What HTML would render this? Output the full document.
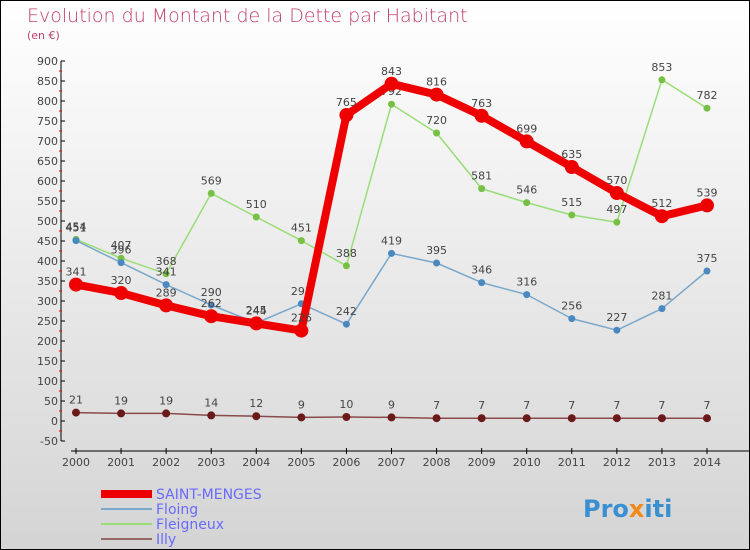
<!DOCTYPE html>
<html><head><meta charset="utf-8"><style>
body{margin:0}
#c{width:748px;height:548px;border:1px solid #000;background:linear-gradient(#fff,#d4d4d4);position:relative;font-family:"DejaVu Sans","Liberation Sans",sans-serif;overflow:hidden}
</style></head><body>
<div id="c">
<svg id="s" width="748" height="548" xmlns="http://www.w3.org/2000/svg">
<text x="26" y="21" font-size="19" fill="#c0406a" font-weight="300">Evolution du Montant de la Dette par Habitant</text>
<text x="26" y="38" font-size="11" fill="#c0406a">(en €)</text>
<g id="axes"></g><g id="series"></g>
<g>
<rect x="100" y="489" width="51" height="8" fill="#e00"/>
<text x="155" y="498" font-size="14" fill="#6a6aff">SAINT-MENGES</text>
<rect x="100" y="507" width="51" height="2" fill="#7aa8cc"/>
<text x="155" y="513" font-size="14" fill="#6a6aff">Floing</text>
<rect x="100" y="522" width="51" height="2" fill="#99dd77"/>
<text x="155" y="528" font-size="14" fill="#6a6aff">Fleigneux</text>
<rect x="100" y="537" width="51" height="2" fill="#996666"/>
<text x="155" y="543" font-size="14" fill="#6a6aff">Illy</text>
</g>
<text x="582" y="516" font-size="24" font-weight="bold" fill="#3a8fd0">Pro<tspan fill="#f08a1a">x</tspan>iti</text>
</svg></div>
<script>
const years=["2000","2001","2002","2003","2004","2005","2006","2007","2008","2009","2010","2011","2012","2013","2014"];
const yTicks=[900,850,800,750,700,650,600,550,500,450,400,350,300,250,200,150,100,50,0,-50];
const saintMenges=[341,320,289,262,244,226,765,843,816,763,699,635,570,512,539];
const floing=[451,396,341,290,245,293,242,419,395,346,316,256,227,281,375];
const fleigneux=[454,407,368,569,510,451,388,792,720,581,546,515,497,853,782];
const illy=[21,19,19,14,12,9,10,9,7,7,7,7,7,7,7];
const NS="http://www.w3.org/2000/svg";
const X=i=>75+i*(706-75)/(years.length-1);
const Y=v=>420-v*0.4;
function mk(t,a,p){const e=document.createElementNS(NS,t);for(const k in a)e.setAttribute(k,a[k]);p.appendChild(e);return e;}
const ax=document.getElementById('axes'),sg=document.getElementById('series');
let e=mk('line',{x1:60,y1:Y(900),x2:60,y2:Y(-50),stroke:'#000'},ax);


yTicks.forEach(v=>{mk('line',{x1:60,y1:Y(v),x2:64,y2:Y(v),stroke:'#000'},ax);
 if(v>-50)mk('line',{x1:58,y1:Y(v)+10,x2:61,y2:Y(v)+10,stroke:'#e00'},ax);
 const t=mk('text',{x:57,y:Y(v)+4,'font-size':11,'text-anchor':'end',fill:'#444'},ax);t.textContent=v;
 
 });
e=mk('line',{x1:70,y1:450,x2:748,y2:450,stroke:'#000'},ax);


years.forEach((y,i)=>{mk('line',{x1:X(i),y1:447,x2:X(i),y2:453,stroke:'#000'},ax);
 const t=mk('text',{x:X(i),y:465,'font-size':11,'text-anchor':'middle',fill:'#444'},ax);t.textContent=y;
 
 });
function series(d,col,w,r,name,dot){
 const g=mk('g',{},sg);
 
 
 mk('polyline',{points:d.map((v,i)=>X(i)+','+Y(v)).join(' '),fill:'none',stroke:col,'stroke-width':w,'stroke-linejoin':'round'},g);
 d.forEach((v,i)=>{const c=mk('circle',{cx:X(i),cy:Y(v),r:r,fill:dot},g);
  
  
  const t=mk('text',{x:X(i),y:Y(v)-9,'font-size':11,'text-anchor':'middle',fill:'#444'},g);t.textContent=v;
  
  });
}
series(fleigneux,'#99dd77',1.5,3.5,'fleigneux','#77c044');
series(floing,'#7aa8cc',1.5,3.5,'floing','#4a88c0');
series(illy,'#8a4a4a',1.5,4,'illy','#6a1a1a');
series(saintMenges,'#e00',8,7,'saint-menges','#e00');
</script>
</body></html>
